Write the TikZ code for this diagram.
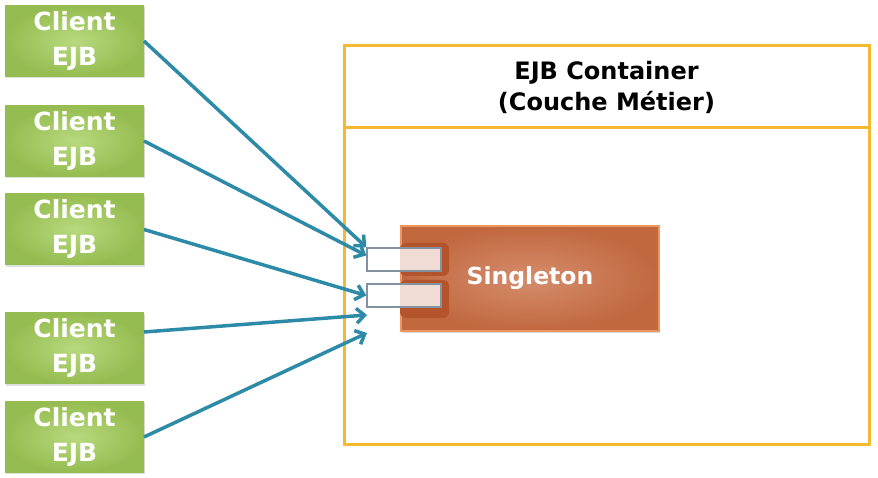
\documentclass[tikz,border=0pt]{standalone}
\usepackage{fontspec}
\setmainfont{DejaVu Sans}
\usetikzlibrary{arrows.meta,positioning,shadows}

\definecolor{clientgreen}{HTML}{95BC50}
\definecolor{clientlight}{HTML}{B8D97E}
\definecolor{singleorange}{HTML}{C1683F}
\definecolor{singlelight}{HTML}{D58D6D}
\definecolor{singleedge}{HTML}{EE9560}
\definecolor{tabbrown}{HTML}{B4542C}
\definecolor{portgray}{HTML}{8391A1}
\definecolor{boxgold}{HTML}{F5B930}
\definecolor{arrowteal}{HTML}{2D8BA7}

\begin{document}
\begin{tikzpicture}[x=1pt,y=1pt,auto,node distance=20pt,
  client node/.style={rectangle,inner color=clientlight,outer color=clientgreen,
    minimum width=139pt,minimum height=71pt,align=center,text=white,
    font=\bfseries\fontsize{25}{35}\selectfont,outer sep=0pt,
    drop shadow={opacity=0.25,shadow xshift=1pt,shadow yshift=-2pt}},
  container node/.style={rectangle,draw=boxgold,line width=3pt,
    minimum width=525pt,outer sep=0pt},
  singleton node/.style={rectangle,inner color=singlelight,outer color=singleorange,
    draw=singleedge,line width=1.5pt,minimum width=258pt,minimum height=105pt,
    text=white,font=\bfseries\fontsize{23.5}{28}\selectfont,
    drop shadow={opacity=0.3,shadow xshift=1pt,shadow yshift=-2pt}},
  tab node/.style={rectangle,rounded corners=6pt,fill=tabbrown,minimum width=49pt},
  port node/.style={rectangle,draw=portgray,line width=1.5pt,fill=white,fill opacity=0.8,
    minimum width=74pt,minimum height=23pt},
  call/.style={-{Straight Barb[length=8pt,width=15pt,line width=3.5pt]},
    line width=3.5pt,draw=arrowteal}]

  \useasboundingbox (0,0) rectangle (878,478);

  % clients
  \node[client node] (c1) at (74.5,437) {Client\\EJB};
  \node[client node] (c2) [below=29pt of c1] {Client\\EJB};
  \node[client node] (c3) [below=17.5pt of c2] {Client\\EJB};
  \node[client node] (c4) [below=48pt of c3] {Client\\EJB};
  \node[client node] (c5) [below=17.5pt of c4] {Client\\EJB};

  % container
  \node[container node,minimum height=82pt,align=center,
    font=\bfseries\fontsize{24}{31}\selectfont] (hdr) at (606.5,391)
    {EJB Container\\(Couche Métier)};
  \node[container node,minimum height=317pt] (ctr) [below=0pt of hdr] {};

  % singleton with its two ports
  \node[singleton node] (sgl) at (530,199.5) {Singleton};
  \node[tab node,minimum height=33pt] (tab1) at (424.5,218.5) {};
  \node[tab node,minimum height=38pt] (tab2) at (424.5,179) {};
  \node[port node] (p1) at (404,218.5) {};
  \node[port node] (p2) at (404,182.5) {};

  \coordinate (in4) at (367,163);
  \coordinate (in5) at (367,145);

  \path[every edge/.style=call]
    (c1.east) edge (p1.north west)
    (c2.east) edge ([yshift=4pt]p1.west)
    (c3.east) edge (p2.west)
    ([yshift=16.5pt]c4.east) edge (in4)
    (c5.east) edge (in5);

\end{tikzpicture}
\end{document}
